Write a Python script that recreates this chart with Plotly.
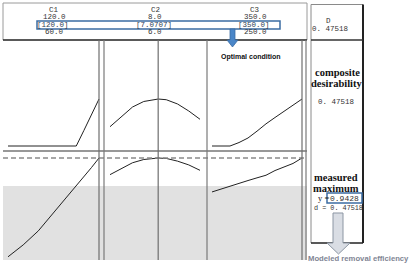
import plotly.graph_objects as go

W, H = 410, 266

# ---------------- data ----------------
FACTORS = ["C1", "C2", "C3"]
HIGH_LABELS = ["120.0", "8.0", "350.0"]
CUR_LABELS = ["[120.0]", "[7.0707]", "[350.0]"]
LOW_LABELS = ["60.0", "6.0", "250.0"]
LOW = [60, 6.0, 250]
HIGH = [120, 8.0, 350]
CUR = [120, 7.0707, 350]

C1 = [60, 70, 80, 90, 100, 105, 110, 115, 120]
D_C1 = [0, 0, 0, 0, 0, 0, 0.156, 0.312, 0.475]
Y_C1 = [0.760, 0.782, 0.808, 0.841, 0.874, 0.891, 0.908, 0.925, 0.9428]

C2 = [6.0, 6.25, 6.5, 6.75, 7.0, 7.0707, 7.25, 7.5, 7.75, 8.0]
D_C2 = [0.195, 0.298, 0.394, 0.450, 0.473, 0.475, 0.468, 0.425, 0.354, 0.270]
Y_C2 = [0.912, 0.923, 0.934, 0.940, 0.9426, 0.9428, 0.942, 0.937, 0.930, 0.920]

C3 = [250, 260, 270, 280, 290, 300, 310, 320, 330, 340, 350]
D_C3 = [0, 0, 0, 0.035, 0.081, 0.150, 0.224, 0.288, 0.351, 0.413, 0.475]
Y_C3 = [0.880, 0.8856, 0.8911, 0.8963, 0.9011, 0.9061, 0.9109, 0.9196, 0.9266, 0.9327, 0.9428]

D_VALUE = 0.47518
Y_MEAS = 0.9428
Y_LOWER = 0.891
D_TEXT = "0. 47518"
Y_TEXT = "0.9428"

# ---------------- layout helpers ----------------
def px(x):
    return x / W

def py(y):
    return 1 - y / H

def lin(p, va, qa, vb, qb):
    return va + (p - qa) * (vb - va) / (qb - qa)

PANEL_DOM = [(3, 104), (104, 207), (207, 307)]
PANEL_ANCH = [(8, 99), (110, 200), (212, 302)]
UP_DOM = (40, 151)
LO_DOM = (151, 260)

fig = go.Figure()

layout_axes = {}
for i in range(3):
    p0, p1 = PANEL_DOM[i]
    a0, a1 = PANEL_ANCH[i]
    r0 = lin(p0, LOW[i], a0, HIGH[i], a1)
    r1 = lin(p1, LOW[i], a0, HIGH[i], a1)
    name = "xaxis" if i == 0 else f"xaxis{i+1}"
    layout_axes[name] = dict(domain=[px(p0), px(p1)], range=[r0, r1], visible=False,
                             anchor="y", fixedrange=True)

# upper row: D 0 -> 146 px, D_VALUE -> 99 px
u_bot = lin(UP_DOM[1], 0, 146, D_VALUE, 99)
u_top = lin(UP_DOM[0], 0, 146, D_VALUE, 99)
layout_axes["yaxis"] = dict(domain=[py(UP_DOM[1]), py(UP_DOM[0])], range=[u_bot, u_top],
                            visible=False, anchor="x", fixedrange=True)
# lower row: Y_LOWER -> 186 px, Y_MEAS -> 158 px
l_bot = lin(LO_DOM[1], Y_LOWER, 186, Y_MEAS, 158)
l_top = lin(LO_DOM[0], Y_LOWER, 186, Y_MEAS, 158)
layout_axes["yaxis2"] = dict(domain=[py(LO_DOM[1]), py(LO_DOM[0])], range=[l_bot, l_top],
                             visible=False, anchor="x", fixedrange=True)

xs = [C1, C2, C3]
ds = [D_C1, D_C2, D_C3]
ys = [Y_C1, Y_C2, Y_C3]
xrefs = ["x", "x2", "x3"]
LINE = dict(color="#222222", width=1)
for i in range(3):
    fig.add_trace(go.Scatter(x=xs[i], y=ds[i], xaxis=xrefs[i], yaxis="y", mode="lines",
                             line=LINE, showlegend=False, hoverinfo="skip"))
    fig.add_trace(go.Scatter(x=xs[i], y=ys[i], xaxis=xrefs[i], yaxis="y2", mode="lines",
                             line=LINE, showlegend=False, hoverinfo="skip"))

shapes = []
# gray shaded region below lower bound
shapes.append(dict(type="rect", xref="paper", yref="y2", x0=px(3), x1=px(307),
                   y0=l_bot, y1=Y_LOWER, fillcolor="#e1e1e1", line=dict(width=0), layer="below"))

def pline(x0, y0, x1, y1, color, width=1, dash=None):
    d = dict(type="line", xref="paper", yref="paper", x0=px(x0), y0=py(y0), x1=px(x1), y1=py(y1),
             line=dict(color=color, width=width))
    if dash:
        d["line"]["dash"] = dash
    shapes.append(d)

# header box
pline(3, 3, 307, 3, "#9a9a9a", 1)
pline(3, 3, 3, 40, "#9a9a9a", 1)
pline(307, 3, 307, 40, "#9a9a9a", 1)
pline(3, 40, 307, 40, "#222222", 1.5)

# row separator
pline(3, 151, 307, 151, "#333333", 1.2)
# measured value line (dashed)
shapes.append(dict(type="line", xref="paper", yref="y2", x0=px(3), x1=px(307),
                   y0=Y_MEAS, y1=Y_MEAS, line=dict(color="#8a8a8a", width=1.5, dash="5px,3px")))

# current-setting vertical lines
for i in range(3):
    shapes.append(dict(type="line", xref=xrefs[i], yref="paper", x0=CUR[i], x1=CUR[i],
                       y0=py(260), y1=py(40), line=dict(color="#6e6e6e", width=1.2)))
# panel borders
for xb in [104, 207, 306]:
    pline(xb, 40, xb, 260, "#7a7a7a", 1.2)

# right-side boxes
pline(311, 4.5, 363, 4.5, "#8a8a8a", 1)
pline(311, 4.5, 311, 243, "#8a8a8a", 1)
pline(363, 4.5, 363, 243, "#222222", 2)
pline(311, 40, 363, 40, "#333333", 1.5)
pline(311, 243, 363, 243, "#222222", 1.5)

BLUE = "#3b6ca3"
# blue highlight boxes
shapes.append(dict(type="rect", xref="paper", yref="paper", x0=px(37), x1=px(280),
                   y0=py(29), y1=py(21), line=dict(color=BLUE, width=1.5)))

def arrow_path(xl, xr, hl, hr, ytop, yneck, ytip):
    xm = (hl + hr) / 2
    pts = [(xl, ytop), (xr, ytop), (xr, yneck), (hr, yneck), (xm, ytip), (hl, yneck), (xl, yneck)]
    return "M " + " L ".join(f"{px(a):.5f},{py(b):.5f}" for a, b in pts) + " Z"

# blue arrow to "Optimal condition"
shapes.append(dict(type="path", xref="paper", yref="paper",
                   path=arrow_path(230, 235, 227, 238, 29, 40, 47),
                   fillcolor="#4a86c8", line=dict(color="#3b6ca3", width=0.8)))
# gray arrow to "Modeled removal efficiency"
shapes.append(dict(type="path", xref="paper", yref="paper",
                   path=arrow_path(333, 343, 327, 350, 213, 243, 254),
                   fillcolor="#d9dde4", line=dict(color="#8c96a3", width=1)))

annotations = []

def txt(x, y, s, size=7.5, family="Liberation Mono, DejaVu Sans Mono, monospace", color="#333333",
        xanchor="center", bold=False, bg=None):
    a = dict(xref="paper", yref="paper", x=px(x), y=py(y), text=(f"<b>{s}</b>" if bold else s),
             showarrow=False, xanchor=xanchor, yanchor="middle",
             font=dict(size=size, family=family, color=color), borderpad=0)
    if bg:
        a["bgcolor"] = bg
    annotations.append(a)

HX = [54, 155, 255]
for i in range(3):
    txt(HX[i], 10, FACTORS[i])
    txt(HX[i], 17, HIGH_LABELS[i])
    txt(HX[i] - 1, 25, CUR_LABELS[i], color="#2f3d55")
    txt(HX[i], 32.5, LOW_LABELS[i])

txt(328, 21, "D")
txt(311, 29.5, D_TEXT, xanchor="left")

SERIF = "Liberation Serif, DejaVu Serif, serif"
SANS = "Liberation Sans, Arial, sans-serif"
txt(251, 57, "Optimal condition", size=7, family=SANS, color="#111111", bold=True)

txt(337, 72, "composite", size=10.5, family=SERIF, color="#111111", bold=True)
txt(337, 83.5, "desirability", size=10.5, family=SERIF, color="#111111", bold=True)
txt(336, 102, D_TEXT, size=7.5)

txt(336, 177, "measured", size=10.5, family=SERIF, color="#111111", bold=True)
txt(336, 188.5, "maximum", size=10.5, family=SERIF, color="#111111", bold=True)
# y line (white background hides lower part of "maximum")
shapes.append(dict(type="rect", xref="paper", yref="paper", x0=px(312), x1=px(362),
                   y0=py(204), y1=py(192), fillcolor="white", line=dict(width=0)))
shapes.append(dict(type="rect", xref="paper", yref="paper", x0=px(327), x1=px(362),
                   y0=py(203), y1=py(193), line=dict(color=BLUE, width=1.5)))
txt(317, 198, "y =", size=8.5, family=SERIF, color="#222222", xanchor="left")
txt(344.5, 198, Y_TEXT, size=8)
txt(313, 207.5, "d = " + D_TEXT, size=6.8, xanchor="left")

txt(307, 258, "Modeled removal efficiency", size=7.7, family=SANS, color="#7f8594",
    xanchor="left", bold=True)

fig.update_layout(width=W, height=H, margin=dict(l=0, r=0, t=0, b=0),
                  paper_bgcolor="white", plot_bgcolor="rgba(0,0,0,0)",
                  shapes=shapes, annotations=annotations, showlegend=False, **layout_axes)

fig.write_html("out.html", config={"displayModeBar": False})
